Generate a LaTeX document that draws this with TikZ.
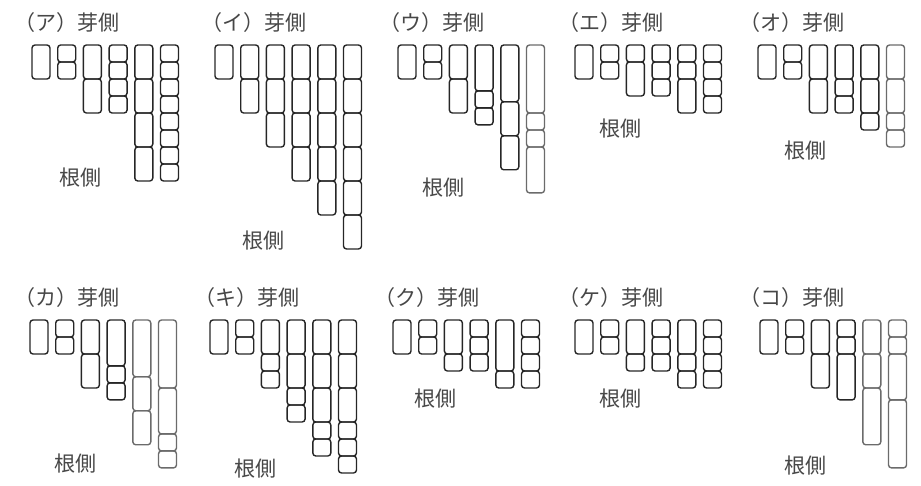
\documentclass[tikz,border=0pt]{standalone}
\usepackage{fontspec}
\newfontfamily\jpfont{Noto Sans CJK JP}
\colorlet{cellcol}{black!85}
\tikzstyle{cell}=[draw=cellcol,line width=1.4pt,rounded corners=3pt]
\tikzstyle{side}=[text=black!72,inner sep=0pt,anchor=base west,font=\jpfont\fontsize{21}{21}\selectfont]

% columns of cells: left x, top y, dark columns, list of columns
\newcommand{\cellpanel}[4]{%
  \foreach \col [count=\i from 0] in {#4} {
    \ifnum\i<#3 \colorlet{cellcol}{black!85}\else\colorlet{cellcol}{black!58}\fi
    \foreach \a/\b in \col
      \draw[cell] (#1+25.7*\i,#2+34*\a) rectangle (#1+25.7*\i+18,#2+34*\b);
  }}

\begin{document}
\begin{tikzpicture}[x=1pt,y=-1pt]
    \useasboundingbox (0,0) rectangle (921,485);
    % Labels on the bud side
    \foreach \pos/\name/\txt in {{(14,30)/a/ア}, {(201,30)/i/イ}, {(379,30)/u/ウ}, {(558,30)/e/エ}, {(739,30)/o/オ},
        {(14,305)/ka/カ}, {(194,305)/ki/キ}, {(374,305)/ku/ク}, {(558,305)/ke/ケ}, {(739,305)/ko/コ}}
        \node[side] (bud-\name) at \pos {（\txt）芽側};
    % Labels on the root side
    \foreach \pos/\name in {{(59,185)/a}, {(242,248)/i}, {(422,195)/u}, {(599,136)/e}, {(784,158)/o},
        {(54,471)/ka}, {(234,476)/ki}, {(414,406)/ku}, {(599,406)/ke}, {(784,473)/ko}}
        \node[side] (root-\name) at \pos {根側};

    % Top row
    \cellpanel{32}{45}{6}{{0/1}, {0/.5,.5/1}, {0/1,1/2}, {0/.5,.5/1,1/1.5,1.5/2}, {0/1,1/2,2/3,3/4},
        {0/.5,.5/1,1/1.5,1.5/2,2/2.5,2.5/3,3/3.5,3.5/4}}
    \cellpanel{215}{45}{6}{{0/1}, {0/1,1/2}, {0/1,1/2,2/3}, {0/1,1/2,2/3,3/4}, {0/1,1/2,2/3,3/4,4/5},
        {0/1,1/2,2/3,3/4,4/5,5/6}}
    \cellpanel{398}{45}{5}{{0/1}, {0/.5,.5/1}, {0/1,1/2}, {0/1.35,1.35/1.85,1.85/2.35}, {0/1.67,1.67/2.67,2.67/3.67},
        {0/2,2/2.5,2.5/3,3/4.35}}
    \cellpanel{575}{45}{6}{{0/1}, {0/.5,.5/1}, {0/.5,.5/1.5}, {0/.5,.5/1,1/1.5}, {0/.5,.5/1,1/2},
        {0/.5,.5/1,1/1.5,1.5/2}}
    \cellpanel{758}{45}{5}{{0/1}, {0/.5,.5/1}, {0/1,1/2}, {0/1,1/1.5,1.5/2}, {0/1,1/2,2/2.5},
        {0/1,1/2,2/2.5,2.5/3}}

    % Bottom row
    \cellpanel{30}{320}{4}{{0/1}, {0/.5,.5/1}, {0/1,1/2}, {0/1.35,1.35/1.85,1.85/2.35}, {0/1.67,1.67/2.67,2.67/3.67},
        {0/2,2/3.35,3.35/3.85,3.85/4.35}}
    \cellpanel{210}{320}{6}{{0/1}, {0/.5,.5/1}, {0/1,1/1.5,1.5/2}, {0/1,1/2,2/2.5,2.5/3}, {0/1,1/2,2/3,3/3.5,3.5/4},
        {0/1,1/2,2/3,3/3.5,3.5/4,4/4.5}}
    \cellpanel{393}{320}{6}{{0/1}, {0/.5,.5/1}, {0/1,1/1.5}, {0/.5,.5/1,1/1.5}, {0/1.5,1.5/2},
        {0/.5,.5/1,1/1.5,1.5/2}}
    \cellpanel{575}{320}{6}{{0/1}, {0/.5,.5/1}, {0/1,1/1.5}, {0/.5,.5/1,1/1.5}, {0/1,1/1.5,1.5/2},
        {0/.5,.5/1,1/1.5,1.5/2}}
    \cellpanel{760}{320}{4}{{0/1}, {0/.5,.5/1}, {0/1,1/2}, {0/.5,.5/1,1/2.35}, {0/1,1/2,2/3.67},
        {0/.5,.5/1,1/2.35,2.35/4.35}}
\end{tikzpicture}
\end{document}
